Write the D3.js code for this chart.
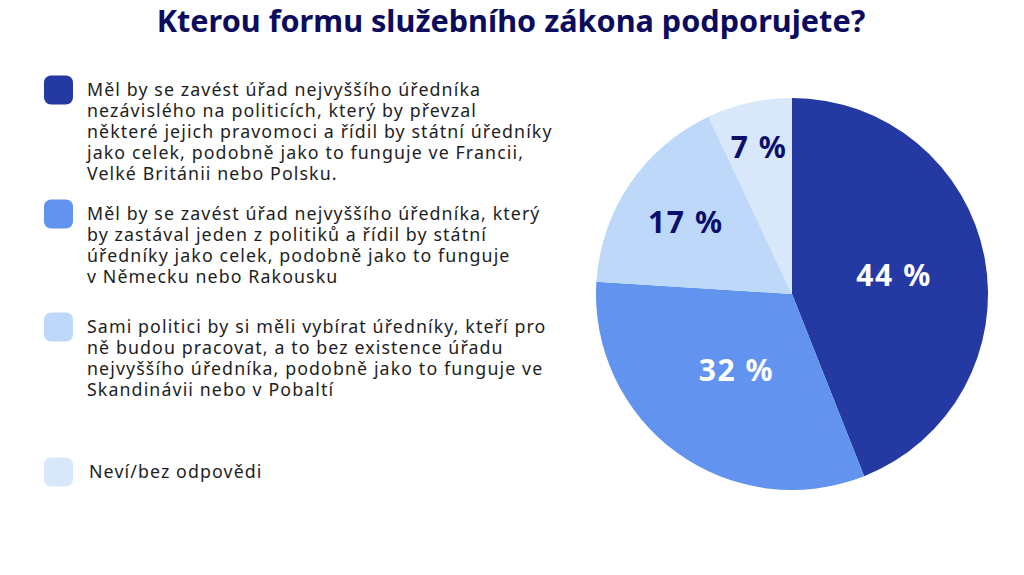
<!DOCTYPE html>
<html>
<head>
<meta charset="utf-8">
<script src="https://cdn.jsdelivr.net/npm/d3@7"></script>
<style>
  html, body { margin: 0; padding: 0; background: #ffffff; }
  svg { display: block; }
</style>
</head>
<body>
<svg id="chart" width="1024" height="575"></svg>
<script>
// ---- data ----
const title = "Kterou formu služebního zákona podporujete?";
const categories = [
  ["Měl by se zavést úřad nejvyššího úředníka",
   "nezávislého na politicích, který by převzal",
   "některé jejich pravomoci a řídil by státní úředníky",
   "jako celek, podobně jako to funguje ve Francii,",
   "Velké Británii nebo Polsku."],
  ["Měl by se zavést úřad nejvyššího úředníka, který",
   "by zastával jeden z politiků a řídil by státní",
   "úředníky jako celek, podobně jako to funguje",
   "v Německu nebo Rakousku"],
  ["Sami politici by si měli vybírat úředníky, kteří pro",
   "ně budou pracovat, a to bez existence úřadu",
   "nejvyššího úředníka, podobně jako to funguje ve",
   "Skandinávii nebo v Pobaltí"],
  ["Neví/bez odpovědi"]
];
const values = [44, 32, 17, 7];
const colors = ["#2539a3", "#6293ee", "#bed8fa", "#d9e7fb"];
const labelColors = ["#ffffff", "#ffffff", "#0b0f6b", "#0b0f6b"];

// ---- layout ----
const svg = d3.select("#chart");
const cx = 792, cy = 294, R = 196;
const legendBaselines = [96, 220, 333, 478];
const lineH = 21;
const legendFont = 17.8;
const legendSpacing = 1.1;

// title
const t = svg.append("text")
  .attr("x", 511).attr("y", 32)
  .attr("text-anchor", "middle")
  .attr("font-family", "'Noto Sans', sans-serif")
  .attr("font-weight", 700)
  .attr("font-size", 27)
  .attr("fill", "#0c0c5e")
  .text(title);
const tw = t.node().getComputedTextLength();
t.attr("font-size", 27 * 709 / tw);

// pie
const pie = d3.pie().sort(null).value(d => d);
const arcs = pie(values);
const arc = d3.arc().innerRadius(0).outerRadius(R);
const g = svg.append("g").attr("transform", `translate(${cx},${cy})`);
g.selectAll("path.slice")
  .data(arcs)
  .join("path")
  .attr("class", "slice")
  .attr("d", arc)
  .attr("fill", (d, i) => colors[i]);

const total = d3.sum(values);
g.selectAll("text.lbl")
  .data(arcs)
  .join("text")
  .attr("class", "lbl")
  .each(function(d) {
    const frac = d.value / total;
    const rf = frac > 0.4 ? 0.53 : 0.85 - frac * 1.15;
    const la = d3.arc().innerRadius(R * rf).outerRadius(R * rf);
    const [x, y] = la.centroid(d);
    d3.select(this).attr("x", x).attr("y", y + 11);
  })
  .attr("text-anchor", "middle")
  .attr("font-family", "'Noto Sans', sans-serif")
  .attr("font-weight", 700)
  .attr("font-size", 30)
  .attr("letter-spacing", 1.6)
  .attr("fill", (d, i) => labelColors[i])
  .text(d => d.value + " %");

// legend
const lg = svg.append("g");
categories.forEach((lines, i) => {
  const b = legendBaselines[i];
  lg.append("rect")
    .attr("x", 44).attr("y", b - 6 - 14.5)
    .attr("width", 29).attr("height", 29)
    .attr("rx", 7).attr("ry", 7)
    .attr("fill", colors[i]);
  lines.forEach((ln, j) => {
    lg.append("text")
      .attr("font-family", "'Noto Sans', sans-serif")
      .attr("font-size", legendFont)
      .attr("letter-spacing", legendSpacing)
      .attr("fill", "#1e1e1e")
      .attr("x", i === 3 ? 89 : 87)
      .attr("y", b + j * lineH)
      .text(ln);
  });
});
</script>
</body>
</html>
